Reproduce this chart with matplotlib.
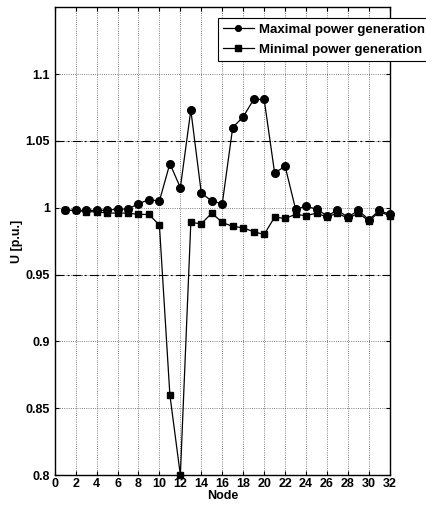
import numpy as np
import matplotlib.pyplot as plt

plt.rcParams['font.family'] = ['Liberation Sans', 'DejaVu Sans']
plt.rcParams['font.weight'] = 'bold'

nodes = np.arange(1, 33)
u_max = [0.998, 0.998, 0.998, 0.998, 0.998, 0.999, 0.999, 1.003, 1.006, 1.005,
         1.033, 1.015, 1.073, 1.011, 1.005, 1.003, 1.060, 1.068, 1.081, 1.081,
         1.026, 1.031, 0.999, 1.001, 0.999, 0.994, 0.998, 0.993, 0.998, 0.991,
         0.998, 0.995]
u_min = [0.998, 0.998, 0.997, 0.997, 0.996, 0.996, 0.996, 0.995, 0.995, 0.987,
         0.860, 0.800, 0.989, 0.988, 0.996, 0.989, 0.986, 0.985, 0.982, 0.980,
         0.993, 0.992, 0.995, 0.994, 0.996, 0.993, 0.996, 0.992, 0.996, 0.990,
         0.997, 0.994]
limits = [0.95, 1.05]

fig = plt.figure(figsize=(4.27, 5.12), dpi=100)
ax = fig.add_axes([0.128, 0.072, 0.785, 0.914])

ax.plot(nodes, u_max, '-o', color='black', lw=0.9, ms=5.5, label='Maximal power generation', clip_on=False, zorder=3)
ax.plot(nodes, u_min, '-s', color='black', lw=0.9, ms=5, label='Minimal power generation', clip_on=False, zorder=3)
for lim in limits:
    ax.axhline(lim, color='black', lw=0.8, ls=(0, (8, 3, 1.5, 3)), zorder=2)

ax.set_xlim(0, 32)
ax.set_ylim(0.8, 1.15)
ax.set_xticks(np.arange(0, 33, 2))
yt = [0.8, 0.85, 0.9, 0.95, 1.0, 1.05, 1.1]
ax.set_yticks(yt)
ax.set_yticklabels(['0.8', '0.85', '0.9', '0.95', '1', '1.05', '1.1'])
ax.grid(True, ls=':', color='#555555', lw=0.6)
ax.tick_params(direction='in', top=True, right=True, labelsize=9, length=3, width=0.8)
ax.tick_params(axis='x', pad=2)
for s in ax.spines.values():
    s.set_linewidth(1.0)

ax.set_xlabel('Node', fontsize=9, fontweight='bold', labelpad=0)
ax.set_ylabel('U [p.u.]', fontsize=9, fontweight='bold', labelpad=2)

leg = ax.legend(loc='upper left', bbox_to_anchor=(218 / 427, 1 - 18 / 512),
                bbox_transform=fig.transFigure, borderaxespad=0,
                fontsize=9.5, frameon=True, fancybox=False, markerscale=0.75,
                edgecolor='black', framealpha=1, handlelength=2.3,
                borderpad=0.4, labelspacing=0.6, handletextpad=0.4)
leg.get_frame().set_linewidth(0.8)

fig.savefig('out.png', dpi=100)
